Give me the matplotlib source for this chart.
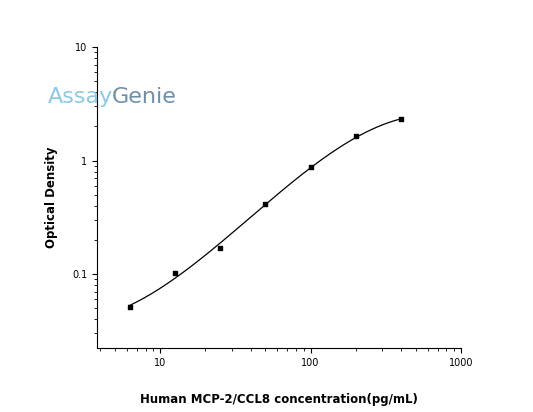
import numpy as np
import matplotlib.pyplot as plt

conc = [6.25, 12.5, 25, 50, 100, 200, 400]
od = [0.051, 0.102, 0.169, 0.414, 0.868, 1.63, 2.3]

fig = plt.figure(figsize=(5.33, 4.12), dpi=100)
ax = fig.add_axes([97 / 533, 1 - 348 / 412, 364 / 533, 301 / 412])

# smooth curve through the points (cubic in log-log space)
lx, ly = np.log10(conc), np.log10(od)
coef = np.polyfit(lx, ly, 3)
xs = np.linspace(lx[0], lx[-1], 200)
ax.plot(10 ** xs, 10 ** np.polyval(coef, xs), color="black", lw=0.9)
ax.scatter(conc, od, marker="s", s=10, color="black", zorder=3)

ax.set_xscale("log")
ax.set_yscale("log")
ax.set_xlim(3.8, 1000)
ax.set_ylim(0.0223, 10)
ax.set_xticks([10, 100, 1000])
ax.set_xticklabels(["10", "100", "1000"])
ax.set_yticks([0.1, 1, 10])
ax.set_yticklabels(["0.1", "1", "10"])
for s in ["top", "right"]:
    ax.spines[s].set_visible(False)
ax.tick_params(labelsize=7, which="both", direction="out")
ax.set_xlabel("Human MCP-2/CCL8 concentration(pg/mL)", fontsize=8.5, fontweight="bold", labelpad=18)
ax.set_ylabel("Optical Density", fontsize=8.5, fontweight="bold", labelpad=10)

fig.text(48 / 533, 1 - 97 / 412, "Assay", color="#8cc8ea", fontsize=16, va="center")
fig.text(112 / 533, 1 - 97 / 412, "Genie", color="#6f8fa8", fontsize=16, va="center")

fig.savefig("out.png", dpi=100)
